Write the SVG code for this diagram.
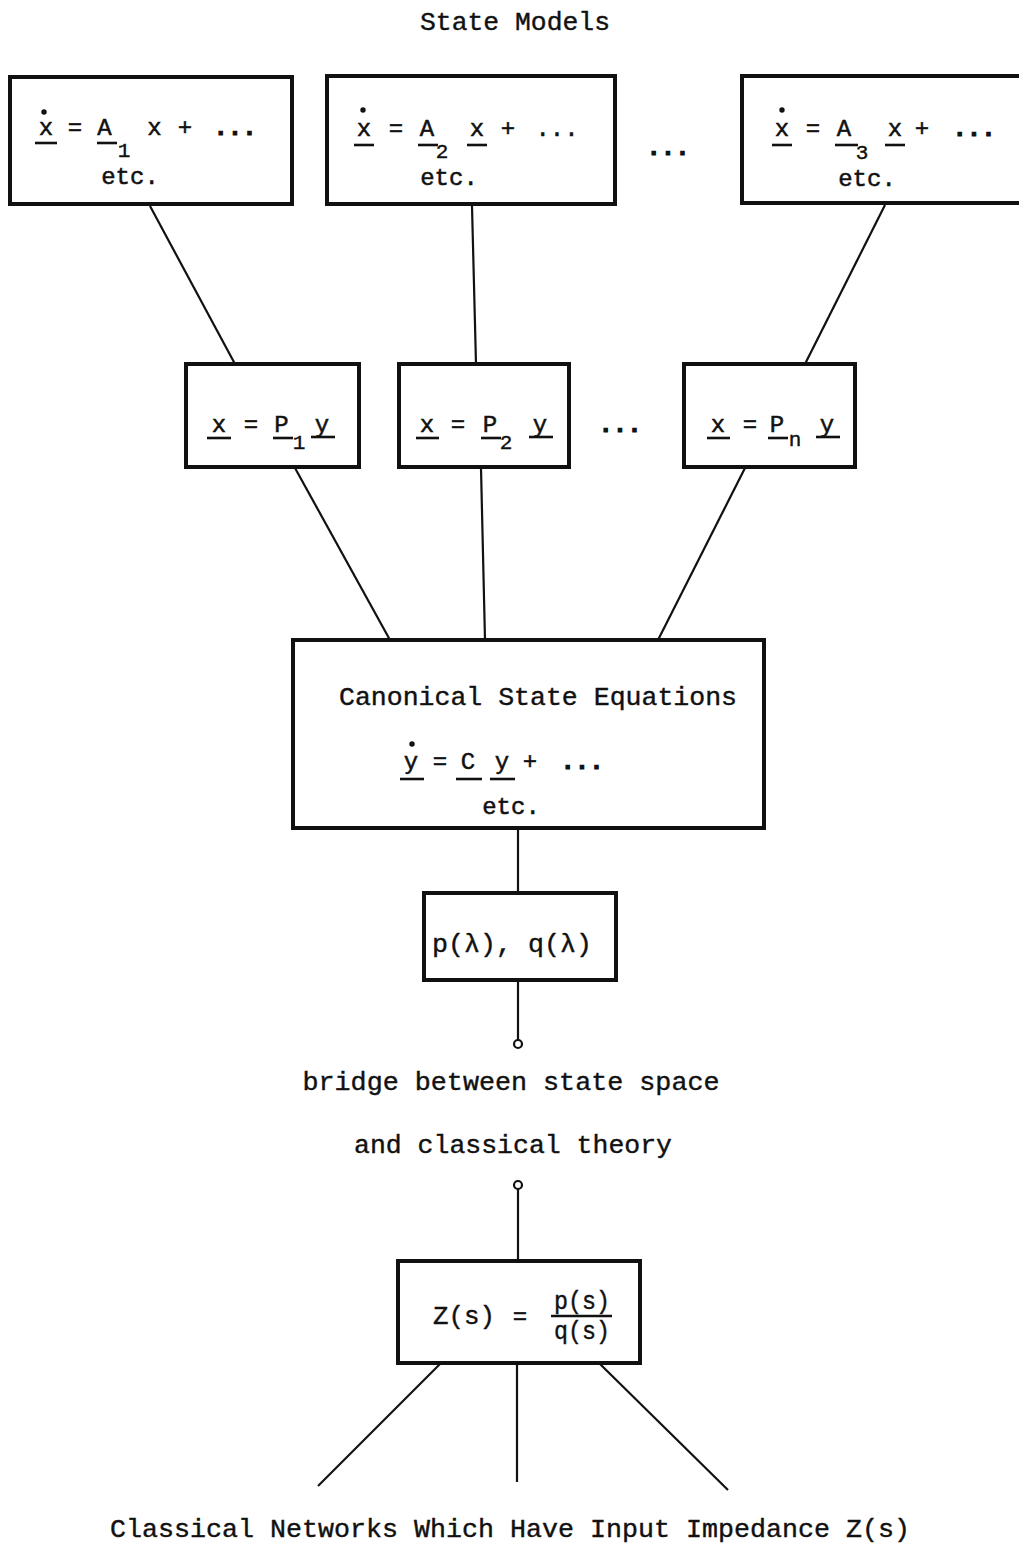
<svg xmlns="http://www.w3.org/2000/svg" width="1019" height="1546" viewBox="0 0 1019 1546">
<style>
.box{fill:none;stroke:#111;stroke-width:4}
.con{fill:none;stroke:#111;stroke-width:2.2}
.ul{stroke:#111;stroke-width:2.6}
.t{font-family:"Liberation Mono","Courier New",monospace;font-size:26px;fill:#111;stroke:#111;stroke-width:0.4}
.e{font-family:"Liberation Mono","Courier New",monospace;font-size:24px;fill:#111;stroke:#111;stroke-width:0.5;text-anchor:middle}
.s{font-family:"Liberation Mono","Courier New",monospace;font-size:21px;fill:#111;stroke:#111;stroke-width:0.4;text-anchor:middle}
.d{font-weight:bold;stroke-width:1.2}
.dot{fill:#111}
</style>
<rect width="1019" height="1546" fill="#fff"/>
<text class="t" x="515" y="30" text-anchor="middle" textLength="190" lengthAdjust="spacingAndGlyphs">State Models</text>

<g id="connectors">
<line class="con" x1="150" y1="206" x2="235" y2="364"/>
<line class="con" x1="472" y1="206" x2="476" y2="364"/>
<line class="con" x1="885" y1="205" x2="805" y2="364"/>
<line class="con" x1="295" y1="468" x2="390" y2="640"/>
<line class="con" x1="481" y1="468" x2="485" y2="640"/>
<line class="con" x1="745" y1="468" x2="658" y2="640"/>
<line class="con" x1="518" y1="829" x2="518" y2="893"/>
<line class="con" x1="518" y1="981" x2="518" y2="1040"/>
<circle class="con" cx="518" cy="1044" r="4"/>
<circle class="con" cx="518" cy="1185" r="4"/>
<line class="con" x1="518" y1="1189" x2="518" y2="1261"/>
<line class="con" x1="440" y1="1364" x2="318" y2="1486"/>
<line class="con" x1="517" y1="1364" x2="517" y2="1482"/>
<line class="con" x1="600" y1="1364" x2="728" y2="1490"/>
</g>

<g id="model1">
<rect class="box" x="10" y="77" width="282" height="127"/>
<circle class="dot" cx="44" cy="112" r="2.7"/>
<text class="e" x="46" y="135">x</text>
<line class="ul" x1="35" y1="143" x2="57" y2="143"/>
<text class="e" x="75" y="135">=</text>
<text class="e" x="104.5" y="135">A</text>
<line class="ul" x1="97" y1="143" x2="117" y2="143"/>
<text class="s" x="124" y="157">1</text>
<text class="e" x="154.5" y="135">x</text>
<text class="e" x="185" y="135">+</text>
<text class="e d" x="235" y="135">...</text>
<text class="e" x="130" y="184">etc.</text>
</g>

<g id="model2">
<rect class="box" x="327" y="76" width="288" height="128"/>
<circle class="dot" cx="363" cy="110" r="2.7"/>
<text class="e" x="364" y="136">x</text>
<line class="ul" x1="354" y1="145" x2="374" y2="145"/>
<text class="e" x="396" y="136">=</text>
<text class="e" x="427" y="136">A</text>
<line class="ul" x1="418" y1="145" x2="438" y2="145"/>
<text class="s" x="442" y="158">2</text>
<text class="e" x="477" y="136">x</text>
<line class="ul" x1="467" y1="145" x2="487" y2="145"/>
<text class="e" x="508" y="136">+</text>
<text class="e" x="557" y="136">...</text>
<text class="e" x="449" y="185">etc.</text>
</g>

<text class="e d" x="668" y="155">...</text>

<g id="model3">
<rect class="box" x="742" y="76" width="290" height="127"/>
<circle class="dot" cx="782" cy="110" r="2.7"/>
<text class="e" x="782" y="136">x</text>
<line class="ul" x1="772" y1="145" x2="792" y2="145"/>
<text class="e" x="813" y="136">=</text>
<text class="e" x="844" y="136">A</text>
<line class="ul" x1="835" y1="145" x2="858" y2="145"/>
<text class="s" x="862" y="159">3</text>
<text class="e" x="895" y="136">x</text>
<line class="ul" x1="885" y1="145" x2="905" y2="145"/>
<text class="e" x="922" y="136">+</text>
<text class="e d" x="974" y="136">...</text>
<text class="e" x="867" y="186">etc.</text>
</g>

<g id="transform1">
<rect class="box" x="186" y="364" width="173" height="103"/>
<text class="e" x="219" y="432">x</text>
<line class="ul" x1="207" y1="438" x2="231" y2="438"/>
<text class="e" x="251" y="432">=</text>
<text class="e" x="281.5" y="432">P</text>
<line class="ul" x1="273" y1="438" x2="293" y2="438"/>
<text class="s" x="299" y="449">1</text>
<text class="e" x="322" y="432">y</text>
<line class="ul" x1="311" y1="437" x2="335" y2="437"/>
</g>

<g id="transform2">
<rect class="box" x="399" y="364" width="170" height="103"/>
<text class="e" x="427" y="432">x</text>
<line class="ul" x1="416" y1="438" x2="439" y2="438"/>
<text class="e" x="458" y="432">=</text>
<text class="e" x="490" y="432">P</text>
<line class="ul" x1="481" y1="438" x2="501" y2="438"/>
<text class="s" x="506" y="449">2</text>
<text class="e" x="540" y="432">y</text>
<line class="ul" x1="529" y1="437" x2="553" y2="437"/>
</g>

<text class="e d" x="620" y="432">...</text>

<g id="transformn">
<rect class="box" x="684" y="364" width="171" height="103"/>
<text class="e" x="718" y="432">x</text>
<line class="ul" x1="707" y1="438" x2="730" y2="438"/>
<text class="e" x="750" y="432">=</text>
<text class="e" x="777" y="432">P</text>
<line class="ul" x1="768" y1="438" x2="788" y2="438"/>
<text class="s" x="795" y="446">n</text>
<text class="e" x="827" y="432">y</text>
<line class="ul" x1="816" y1="437" x2="840" y2="437"/>
</g>

<g id="canonical">
<rect class="box" x="293" y="640" width="471" height="188"/>
<text class="t" x="538" y="705" text-anchor="middle" textLength="398" lengthAdjust="spacingAndGlyphs">Canonical State Equations</text>
<circle class="dot" cx="412" cy="744" r="2.7"/>
<text class="e" x="411" y="769">y</text>
<line class="ul" x1="400" y1="779" x2="424" y2="779"/>
<text class="e" x="440" y="769">=</text>
<text class="e" x="468" y="769">C</text>
<line class="ul" x1="456" y1="779" x2="482" y2="779"/>
<text class="e" x="502" y="769">y</text>
<line class="ul" x1="490" y1="779" x2="515" y2="779"/>
<text class="e" x="530" y="769">+</text>
<text class="e d" x="582" y="769">...</text>
<text class="e" x="511" y="814">etc.</text>
</g>

<g id="polynomials">
<rect class="box" x="424" y="893" width="192" height="87"/>
<text class="t" x="512" y="952" text-anchor="middle" textLength="160" lengthAdjust="spacingAndGlyphs">p(λ), q(λ)</text>
</g>

<g id="bridge">
<text class="t" x="511" y="1090" text-anchor="middle" textLength="417" lengthAdjust="spacingAndGlyphs">bridge between state space</text>
<text class="t" x="513" y="1153" text-anchor="middle" textLength="318" lengthAdjust="spacingAndGlyphs">and classical theory</text>
</g>

<g id="impedance">
<rect class="box" x="398" y="1261" width="242" height="102"/>
<text class="t" x="464" y="1324" text-anchor="middle" textLength="62" lengthAdjust="spacingAndGlyphs">Z(s)</text>
<text class="e" x="520" y="1324">=</text>
<text class="t" x="582" y="1309" text-anchor="middle" textLength="56" lengthAdjust="spacingAndGlyphs">p(s)</text>
<line class="ul" x1="551" y1="1316" x2="612" y2="1316"/>
<text class="t" x="582" y="1339" text-anchor="middle" textLength="56" lengthAdjust="spacingAndGlyphs">q(s)</text>
</g>

<text class="t" x="510" y="1537" text-anchor="middle" textLength="800" lengthAdjust="spacingAndGlyphs">Classical Networks Which Have Input Impedance Z(s)</text>
</svg>
